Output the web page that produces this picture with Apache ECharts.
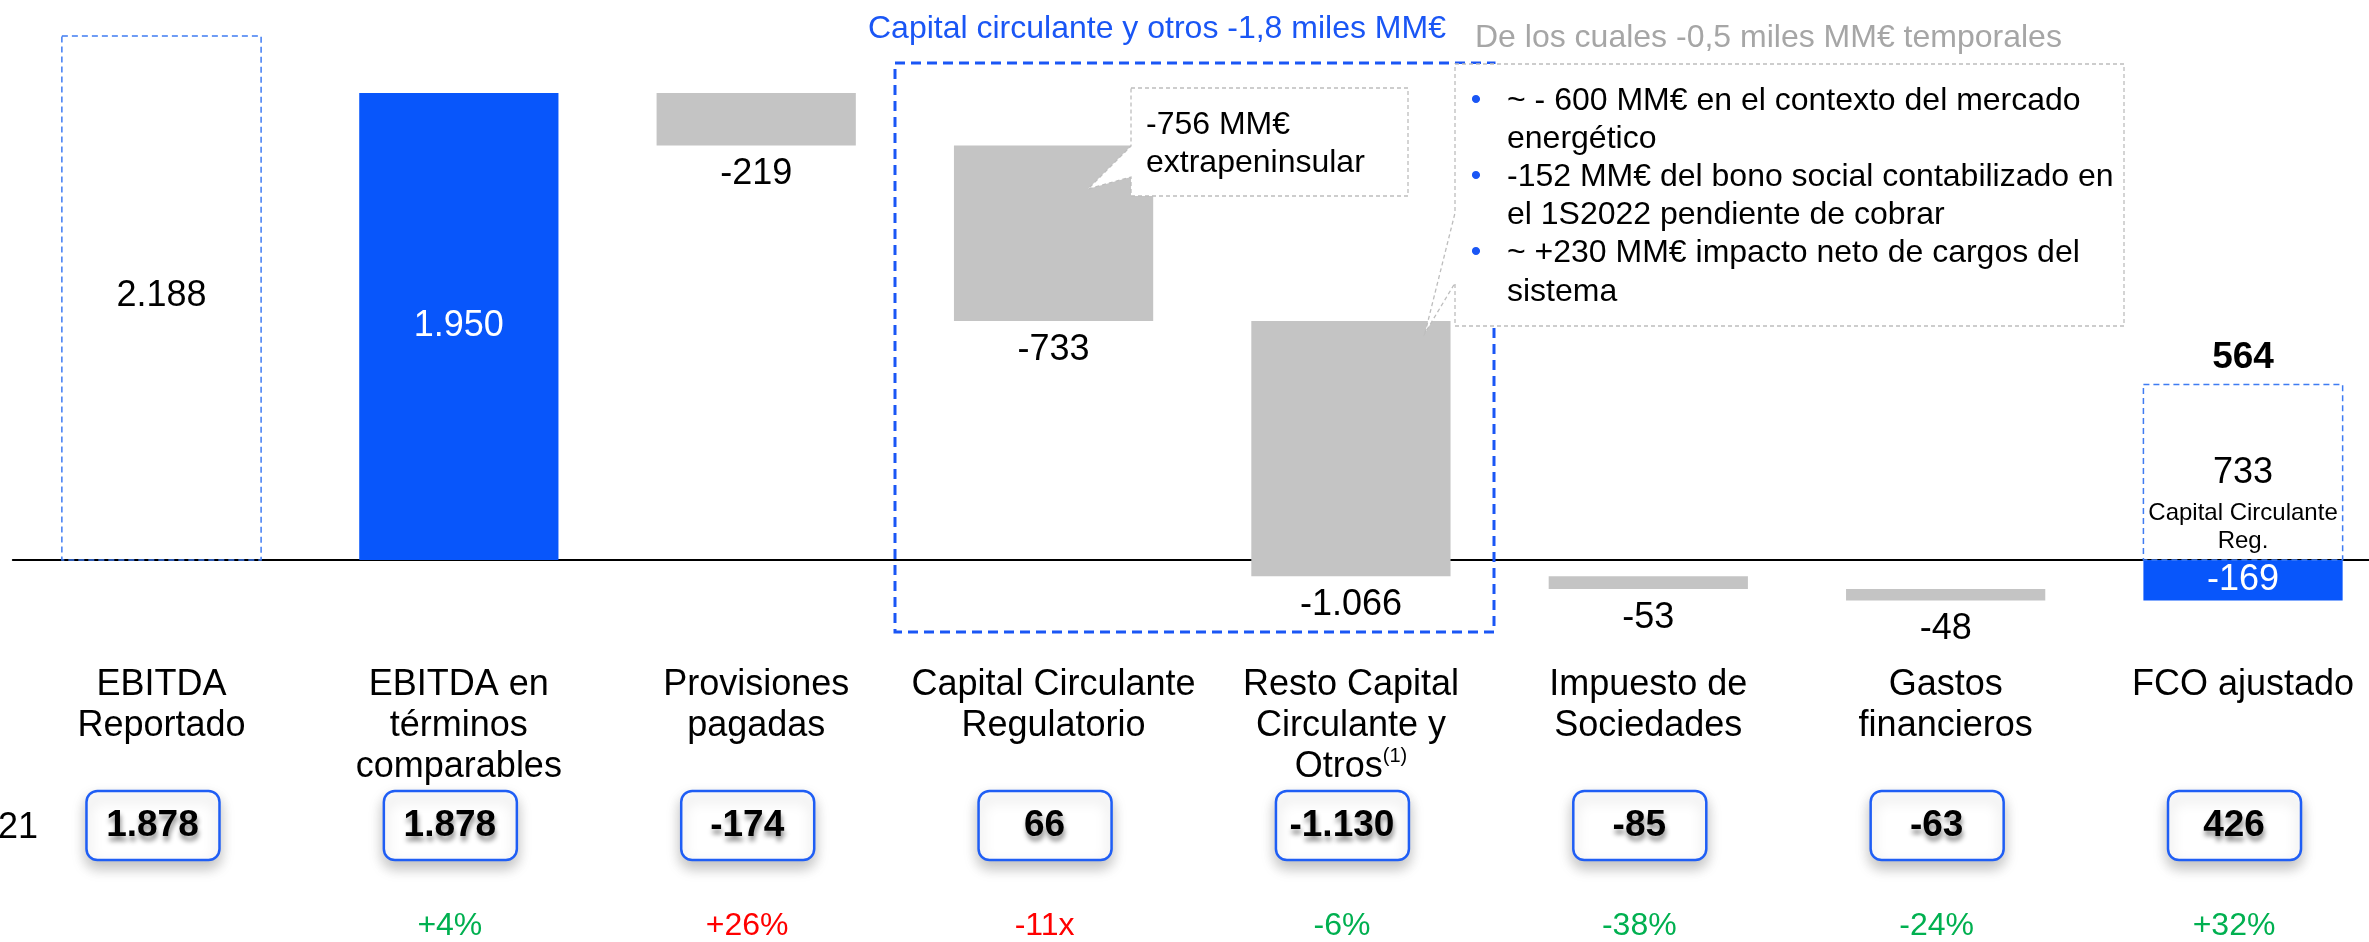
<!DOCTYPE html>
<html>
<head>
<meta charset="utf-8">
<title>FCO ajustado</title>
<script src="https://cdn.jsdelivr.net/npm/echarts@6.0.0/dist/echarts.min.js"></script>
<style>
  html, body { margin: 0; padding: 0; background: #fff; }
  #chart { width: 2369px; height: 942px; }
</style>
</head>
<body>
<div id="chart"></div>
<script>
// categorías del eje
const categories = [
  'EBITDA\nReportado',
  'EBITDA en\ntérminos\ncomparables',
  'Provisiones\npagadas',
  'Capital Circulante\nRegulatorio',
  'Resto Capital\nCirculante y\nOtros{sup|(1)}',
  'Impuesto de\nSociedades',
  'Gastos\nfinancieros',
  'FCO ajustado'
];
// valores 1S2022 (MM€)
const ebitdaReportado = 2188;
const flowSteps = [1950, -219, -733, -1066, -53, -48]; // categorías 1..6
const fcoAjustado = -169;
const ccRegulatorio = 733;
// fila comparativa 1S2021 y variaciones
const prior2021 = [1878, 1878, -174, 66, -1130, -85, -63, 426];
const changeText = ['', '+4%', '+26%', '-11x', '-6%', '-38%', '-24%', '+32%'];
const changeGood = [null, true, false, false, true, true, true, true];

const FONT = '"Liberation Sans", Arial, sans-serif';
const BLUE = '#0856fb';
const GRAY = '#c4c4c4';

function fmt(v) {
  const s = Math.abs(v).toString().replace(/\B(?=(\d{3})+(?!\d))/g, '.');
  return (v < 0 ? '-' : '') + s;
}

// barras flotantes: [categoria, inicio, fin, tipo]  tipo 0 = azul, 1 = gris
const wfData = [];
let cum = 0;
flowSteps.forEach((v, k) => {
  wfData.push([k + 1, cum, cum + v, k === 0 ? 0 : 1]);
  cum += v;
});
wfData.push([7, 0, fcoAjustado, 0]);

const dashedData = [[0, 0, ebitdaReportado], [7, 0, ccRegulatorio]];

function txt(text, x, y, font, fill, align, extra) {
  return {
    type: 'text',
    style: Object.assign({
      text: text, x: x, y: y, font: font, fill: fill,
      align: align || 'center', verticalAlign: 'middle',
      textAlign: align || 'center', textVerticalAlign: 'middle'
    }, extra || {})
  };
}

const chart = echarts.init(document.getElementById('chart'));

const option = {
  animation: false,
  grid: { left: 12.8, right: -22.7, top: 9.17, bottom: 262.3, outerBoundsMode: 'none' },
  xAxis: {
    type: 'category',
    data: categories,
    axisTick: { show: false },
    axisLine: { onZero: true, lineStyle: { color: '#000', width: 2 } },
    axisLabel: {
      interval: 0, margin: -15, fontSize: 36, lineHeight: 41, color: '#000', fontFamily: FONT,
      rich: { sup: { fontSize: 20, lineHeight: 41, verticalAlign: 'top', color: '#000', fontFamily: FONT } }
    }
  },
  yAxis: {
    type: 'value', min: -500, max: 2300, show: false,
    splitLine: { show: false }
  },
  series: [
    {
      type: 'custom',
      name: 'cascada',
      z: 2,
      data: wfData,
      renderItem: function (params, api) {
        const i = api.value(0), s = api.value(1), e = api.value(2), kind = api.value(3);
        const pTop = api.coord([i, Math.max(s, e)]);
        const pBot = api.coord([i, Math.min(s, e)]);
        const bw = api.size([1, 0])[0] * 0.67;
        const x = pTop[0] - bw / 2;
        const children = [{
          type: 'rect',
          shape: { x: x, y: pTop[1], width: bw, height: pBot[1] - pTop[1] },
          style: { fill: kind === 0 ? BLUE : GRAY }
        }];
        const label = fmt(e - s);
        if (kind === 0) {
          children.push(txt(label, pTop[0], (pTop[1] + pBot[1]) / 2, '36px ' + FONT, '#fff'));
        } else {
          children.push(txt(label, pTop[0], pBot[1] + 29, '36px ' + FONT, '#000'));
        }
        return { type: 'group', children: children };
      }
    },
    {
      type: 'custom',
      name: 'referencias',
      z: 3,
      data: dashedData,
      renderItem: function (params, api) {
        const i = api.value(0), s = api.value(1), e = api.value(2);
        const pTop = api.coord([i, e]);
        const pBot = api.coord([i, s]);
        const bw = api.size([1, 0])[0] * 0.67;
        const cx = pTop[0];
        const children = [{
          type: 'rect',
          shape: { x: cx - bw / 2, y: pTop[1], width: bw, height: pBot[1] - pTop[1] },
          style: { fill: 'none', stroke: '#3f7cf2', lineWidth: 1.5, lineDash: [6, 4] }
        }];
        if (params.dataIndex === 0) {
          children.push(txt(fmt(e), cx, (pTop[1] + pBot[1]) / 2 - 2, '36px ' + FONT, '#000'));
        } else {
          children.push(txt(fmt(e), cx, pBot[1] - 87, '36px ' + FONT, '#000'));
          children.push(txt('Capital Circulante', cx, pBot[1] - 47, '24px ' + FONT, '#000'));
          children.push(txt('Reg.', cx, pBot[1] - 19, '24px ' + FONT, '#000'));
          children.push(txt(fmt(e + fcoAjustado), cx, pTop[1] - 27, 'bold 37px ' + FONT, '#000'));
        }
        return { type: 'group', children: children };
      }
    },
    {
      type: 'custom',
      name: '1S2021',
      z: 2,
      data: prior2021.map((v, i) => [i, v]),
      renderItem: function (params, api) {
        const i = api.value(0), v = api.value(1);
        const cx = api.coord([i, 0])[0] - 9;
        const children = [
          {
            type: 'rect',
            shape: { x: cx - 66, y: 791, width: 133, height: 69, r: 11 },
            style: {
              fill: '#fff', stroke: '#1f5ef5', lineWidth: 2.5,
              shadowBlur: 14, shadowOffsetY: 7, shadowColor: 'rgba(0,0,0,0.25)'
            }
          },
          txt(fmt(v), cx, 826, 'bold 37px ' + FONT, '#000', 'center', {
            textShadowBlur: 5, textShadowOffsetX: 1, textShadowOffsetY: 5,
            textShadowColor: 'rgba(0,0,0,0.45)'
          })
        ];
        if (changeText[i]) {
          children.push(txt(changeText[i], cx, 926, '32px ' + FONT,
            changeGood[i] ? '#00b050' : '#ff0000'));
        }
        return { type: 'group', children: children };
      }
    }
  ],
  graphic: [
    // recuadro capital circulante
    {
      type: 'rect', z: 50,
      shape: { x: 895, y: 63, width: 599, height: 569 },
      style: { fill: 'none', stroke: '#1a56f5', lineWidth: 3, lineDash: [10, 6] }
    },
    Object.assign(txt('Capital circulante y otros -1,8 miles MM€', 868, 29, '32px ' + FONT, '#1a56f5', 'left'), { z: 60 }),
    Object.assign(txt('De los cuales -0,5 miles MM€ temporales', 1475, 38, '32px ' + FONT, '#a6a6a6', 'left'), { z: 60 }),
    // bocadillo extrapeninsular
    {
      type: 'polygon', z: 100,
      shape: { points: [[1131, 88], [1408, 88], [1408, 196], [1131, 196], [1131, 177], [1088, 189], [1131, 146]] },
      style: { fill: '#fff', stroke: '#bdbdbd', lineWidth: 1.3, lineDash: [4, 3] }
    },
    Object.assign(txt('-756 MM€', 1146, 125, '32px ' + FONT, '#000', 'left'), { z: 101 }),
    Object.assign(txt('extrapeninsular', 1146, 163, '32px ' + FONT, '#000', 'left'), { z: 101 }),
    // bocadillo detalle
    {
      type: 'polygon', z: 100,
      shape: { points: [[1455, 64], [2124, 64], [2124, 326], [1455, 326], [1455, 283], [1425, 333], [1455, 213]] },
      style: { fill: '#fff', stroke: '#bdbdbd', lineWidth: 1.3, lineDash: [4, 3] }
    },
    Object.assign(txt('•', 1476, 101, '30px ' + FONT, '#1a56f5'), { z: 101 }),
    Object.assign(txt('~ - 600 MM€ en el contexto del mercado', 1507, 101, '32px ' + FONT, '#000', 'left'), { z: 101 }),
    Object.assign(txt('energético', 1507, 139, '32px ' + FONT, '#000', 'left'), { z: 101 }),
    Object.assign(txt('•', 1476, 177, '30px ' + FONT, '#1a56f5'), { z: 101 }),
    Object.assign(txt('-152 MM€ del bono social contabilizado en', 1507, 177, '32px ' + FONT, '#000', 'left'), { z: 101 }),
    Object.assign(txt('el 1S2022 pendiente de cobrar', 1507, 215, '32px ' + FONT, '#000', 'left'), { z: 101 }),
    Object.assign(txt('•', 1476, 253, '30px ' + FONT, '#1a56f5'), { z: 101 }),
    Object.assign(txt('~ +230 MM€ impacto neto de cargos del', 1507, 253, '32px ' + FONT, '#000', 'left'), { z: 101 }),
    Object.assign(txt('sistema', 1507, 292, '32px ' + FONT, '#000', 'left'), { z: 101 }),
    // etiqueta de fila (recortada en el original)
    Object.assign(txt('21', -2, 828, '36px ' + FONT, '#000', 'left'), { z: 60 })
  ]
};

chart.setOption(option);
</script>
</body>
</html>
